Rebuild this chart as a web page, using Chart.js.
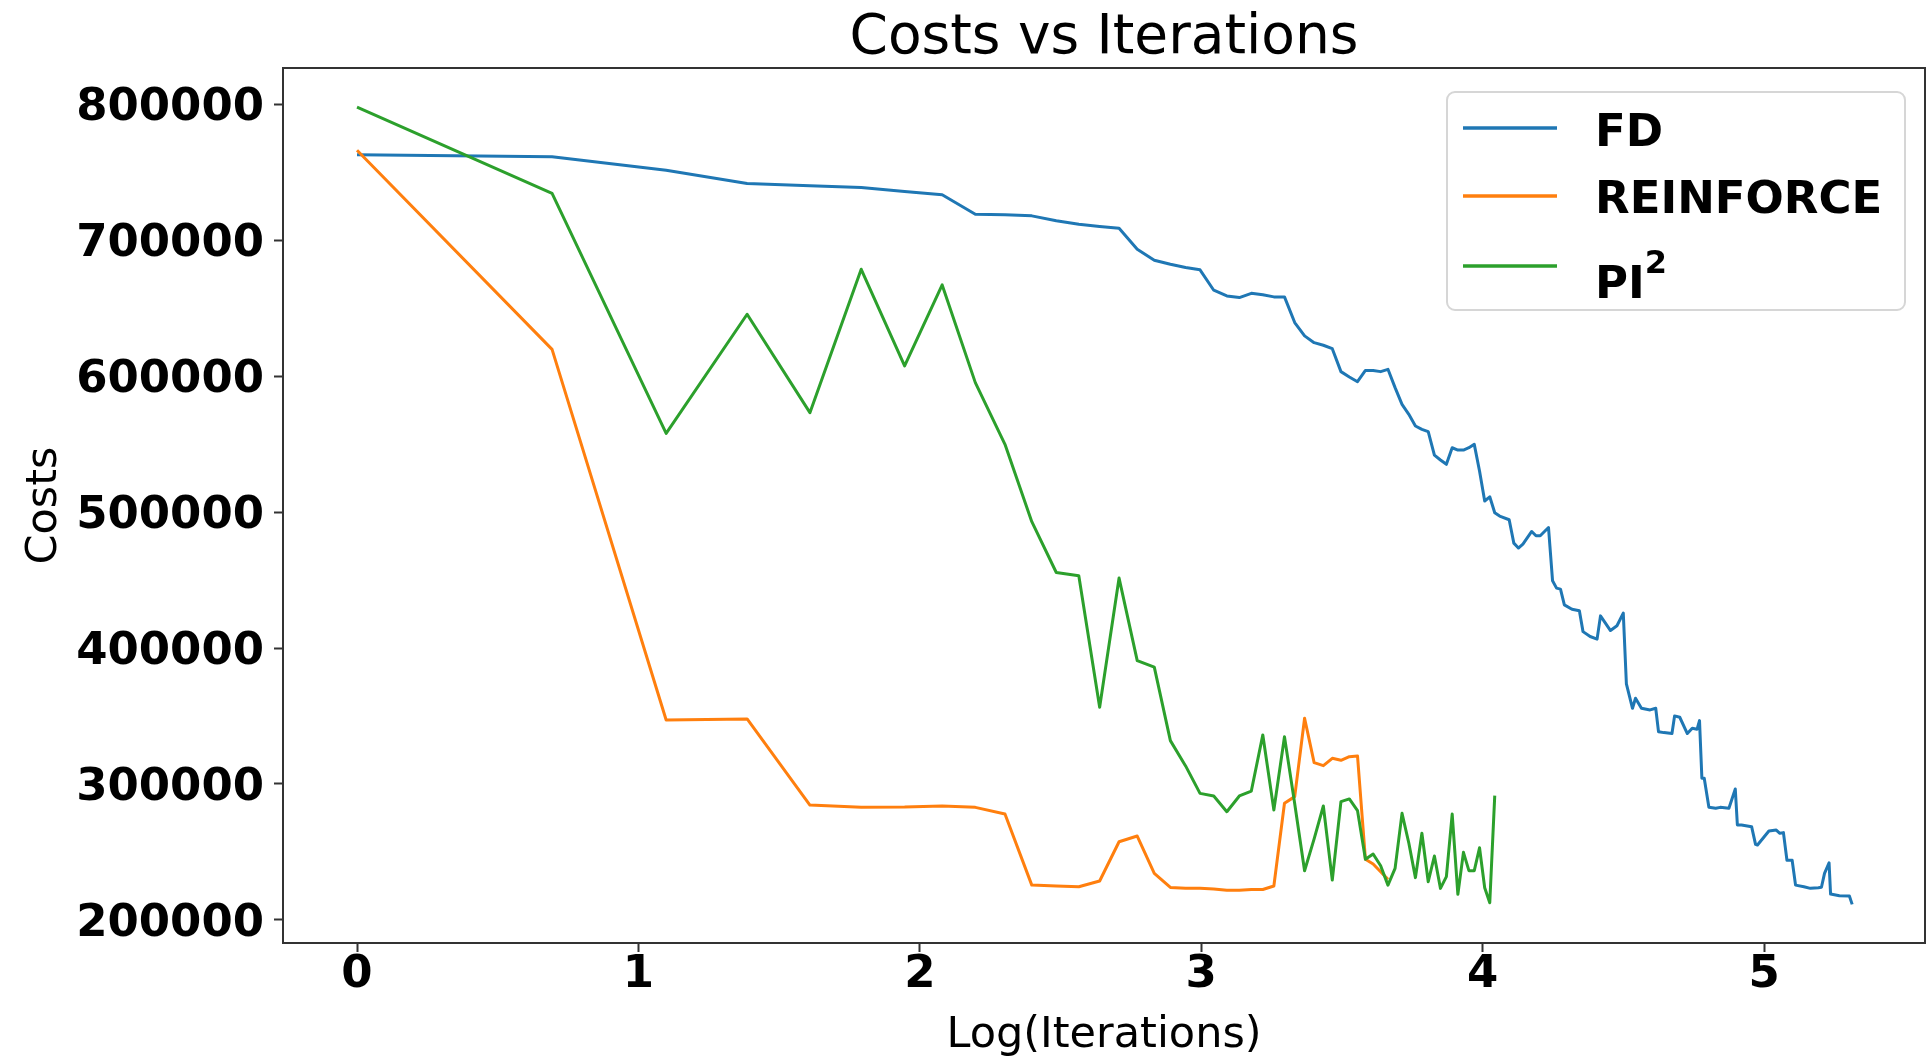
<!DOCTYPE html>
<html>
<head>
<meta charset="utf-8">
<title>Costs vs Iterations</title>
<script src="https://cdn.jsdelivr.net/npm/chart.js@4.4.0/dist/chart.umd.min.js"></script>
<style>
  html, body { margin: 0; padding: 0; background: #fff; }
  #wrap { width: 1928px; height: 1059px; }
</style>
</head>
<body>
<div id="wrap"><canvas id="chart" width="1928" height="1059"></canvas></div>
<script>
// ---------------------------------------
// DATA
// x = log(iteration), y = cost
// ---------------------------------------
const xTicks = [0, 1, 2, 3, 4, 5];
const yTicks = [200000, 300000, 400000, 500000, 600000, 700000, 800000];

// FD: iteration numbers at the visible vertices of the line
const fdIter = [
  1, 2, 3, 4, 5, 6, 7, 8, 9, 10, 11, 12, 13, 14, 15, 16, 17, 18, 19, 20,
  21, 22, 23, 24, 25, 26, 27, 28, 29, 30, 31, 32, 33, 34, 35, 36, 37, 38, 39, 40,
  41, 42, 43, 44, 45, 46, 47, 48, 49, 50, 51, 52, 53, 54, 55, 56, 57, 58, 60, 61,
  62, 63, 65, 66, 67, 69, 70, 71, 72, 73, 75, 77, 78, 80, 82, 83, 86, 88, 90, 91,
  93, 94, 96, 99, 101, 102, 104, 107, 108, 110, 113, 115, 117, 118, 119, 120, 122, 125, 127, 131,
  134, 135, 137, 142, 144, 145, 151, 155, 157, 159, 161, 164, 166, 171, 175, 180, 182, 184, 187, 188,
  194, 201, 203
];
const fdCost = [
  763000, 761500, 751600, 741800, 740100, 738900, 735900, 733500, 719200, 718800,
  718000, 714400, 711900, 710200, 708900, 693500, 685400, 682400, 680000, 678300,
  663300, 659100, 657900, 661000, 659900, 658400, 658400, 639500, 629700, 624700,
  622800, 620300, 603400, 599500, 596000, 604300, 604300, 603400, 605100, 591600,
  579300, 572000, 563400, 560900, 559200, 542000, 538400, 535200, 547400, 545700,
  545700, 547400, 549900, 530300, 508200, 511300, 499600, 497100, 494400, 477200,
  473600, 476500, 485800, 482600, 482600, 488700, 449500, 444100, 443400, 431800,
  428600, 427400, 412100, 408500, 406600, 423700, 412900, 416400, 425700, 373600,
  355700, 363100, 355700, 354500, 355700, 338500, 337800, 337100, 350100, 349100,
  337100, 341000, 340300, 346600, 304200, 304200, 282800, 282100, 282800, 282100,
  296300, 269800, 269800, 268600, 255600, 255100, 265400, 266100, 263700, 264200,
  243900, 243900, 225600, 224400, 223200, 223700, 224000, 234200, 242000, 219000,
  217800, 217600, 211400
];

// REINFORCE: every iteration 1..39
const reIter = [
  1, 2, 3, 4, 5, 6, 7, 8, 9, 10, 11, 12, 13, 14, 15, 16, 17, 18, 19, 20,
  21, 22, 23, 24, 25, 26, 27, 28, 29, 30, 31, 32, 33, 34, 35, 36, 37, 38, 39
];
const reCost = [
  766300, 619800, 347100, 347900, 284500, 282800, 283000, 283800, 282800, 277900,
  225600, 224900, 224400, 228600, 257500, 261700, 234200, 223900, 223200, 223200,
  222700, 221900, 221900, 222400, 222400, 224900, 285800, 290700, 348400, 315700,
  313500, 318900, 317400, 320100, 320600, 244600, 241100, 235400, 229800
];

// PI^2: every iteration 1..57
const piIter = [
  1, 2, 3, 4, 5, 6, 7, 8, 9, 10, 11, 12, 13, 14, 15, 16, 17, 18, 19, 20,
  21, 22, 23, 24, 25, 26, 27, 28, 29, 30, 31, 32, 33, 34, 35, 36, 37, 38, 39, 40,
  41, 42, 43, 44, 45, 46, 47, 48, 49, 50, 51, 52, 53, 54, 55, 56, 57
];
const piCost = [
  798000, 734500, 557900, 645600, 573200, 678700, 607600, 667200, 595300, 549900,
  493000, 455600, 453200, 356500, 451500, 390800, 386000, 331900, 313300, 293100,
  291200, 279600, 291200, 294800, 336100, 280900, 334800, 285500, 236200, 259600,
  283800, 229300, 287000, 289000, 280400, 244600, 248500, 239800, 225600, 237900,
  278400, 256600, 231100, 263700, 228100, 247000, 223200, 231800, 277900, 218800,
  249700, 236200, 236200, 253100, 223700, 212600, 291400
];

const seriesNames = ["FD", "REINFORCE", "PI"];
const seriesColors = ["#1f77b4", "#ff7f0e", "#2ca02c"];

// -------------------------------
// helpers
// -------------------------------
const toPoints = (iters, costs) => iters.map((n, i) => ({ x: Math.log(n), y: costs[i] }));

const FONT = "'DejaVu Sans', 'Liberation Sans', sans-serif";

// frame + title + legend, drawn on top of the chart
const decorations = {
  id: "decorations",
  afterDraw(chart) {
    const ctx = chart.ctx;
    const a = chart.chartArea;
    ctx.save();

    // axes frame
    ctx.strokeStyle = "#333";
    ctx.lineWidth = 2;
    ctx.strokeRect(a.left, a.top, a.right - a.left, a.bottom - a.top);

    // title
    ctx.fillStyle = "#000";
    ctx.font = "55px " + FONT;
    ctx.textAlign = "center";
    ctx.textBaseline = "alphabetic";
    ctx.fillText("Costs vs Iterations", (a.left + a.right) / 2, 53);

    // legend box
    const bx = 1447, by = 92, bw = 458, bh = 218, r = 8;
    ctx.beginPath();
    ctx.moveTo(bx + r, by);
    ctx.arcTo(bx + bw, by, bx + bw, by + bh, r);
    ctx.arcTo(bx + bw, by + bh, bx, by + bh, r);
    ctx.arcTo(bx, by + bh, bx, by, r);
    ctx.arcTo(bx, by, bx + bw, by, r);
    ctx.closePath();
    ctx.fillStyle = "rgba(255,255,255,0.8)";
    ctx.fill();
    ctx.strokeStyle = "#d6d6d6";
    ctx.lineWidth = 2;
    ctx.stroke();

    const rowsY = [128, 196, 266];
    const baseY = [146, 213, 298];
    ctx.textAlign = "left";
    seriesNames.forEach((name, i) => {
      ctx.strokeStyle = seriesColors[i];
      ctx.lineWidth = 3.5;
      ctx.beginPath();
      ctx.moveTo(1463, rowsY[i]);
      ctx.lineTo(1557, rowsY[i]);
      ctx.stroke();

      ctx.fillStyle = "#000";
      ctx.font = "bold 45px " + FONT;
      ctx.fillText(name, 1595, baseY[i]);
      if (name === "PI") {
        const w = ctx.measureText(name).width;
        ctx.font = "bold 32px " + FONT;
        ctx.fillText("2", 1595 + w, 273);
      }
    });

    ctx.restore();
  }
};

new Chart(document.getElementById("chart").getContext("2d"), {
  type: "line",
  data: {
    datasets: [
      { label: "FD", data: toPoints(fdIter, fdCost), borderColor: seriesColors[0], order: 2 },
      { label: "REINFORCE", data: toPoints(reIter, reCost), borderColor: seriesColors[1], order: 1 },
      { label: "PI²", data: toPoints(piIter, piCost), borderColor: seriesColors[2], order: 0 }
    ]
  },
  options: {
    responsive: false,
    animation: false,
    devicePixelRatio: 1,
    parsing: false,
    layout: { padding: { top: 68, right: 3, left: 0, bottom: 0 } },
    elements: {
      line: { borderWidth: 3, tension: 0, fill: false, borderJoinStyle: "round" },
      point: { radius: 0, hoverRadius: 0 }
    },
    plugins: {
      legend: { display: false },
      title: { display: false },
      tooltip: { enabled: false }
    },
    scales: {
      x: {
        type: "linear",
        min: -0.263,
        max: 5.572,
        afterBuildTicks: s => { s.ticks = xTicks.map(v => ({ value: v })); },
        afterFit: s => { s.height = 116; },
        ticks: {
          color: "#000",
          font: { family: FONT, size: 45, weight: "bold" },
          padding: -4,
          maxRotation: 0,
          autoSkip: false,
          callback: v => String(v)
        },
        grid: {
          display: true,
          drawOnChartArea: false,
          drawTicks: true,
          tickLength: 9,
          tickWidth: 2,
          tickColor: "#333"
        },
        border: { display: true, color: "#333", width: 2 },
        title: {
          display: true,
          text: "Log(Iterations)",
          color: "#000",
          font: { family: FONT, size: 43, lineHeight: 1.2 },
          padding: { top: 0, bottom: -3 }
        }
      },
      y: {
        type: "linear",
        min: 183000,
        max: 826800,
        afterBuildTicks: s => { s.ticks = yTicks.map(v => ({ value: v })); },
        afterFit: s => { s.width = 283; },
        ticks: {
          color: "#000",
          font: { family: FONT, size: 45, weight: "bold" },
          padding: 10,
          labelOffset: 4,
          autoSkip: false,
          callback: v => String(v)
        },
        grid: {
          display: true,
          drawOnChartArea: false,
          drawTicks: true,
          tickLength: 9,
          tickWidth: 2,
          tickColor: "#333"
        },
        border: { display: true, color: "#333", width: 2 },
        title: {
          display: true,
          text: "Costs",
          color: "#000",
          font: { family: FONT, size: 43, lineHeight: 1.2 },
          padding: { top: 19, bottom: 0 }
        }
      }
    }
  },
  plugins: [decorations]
});
</script>
</body>
</html>
